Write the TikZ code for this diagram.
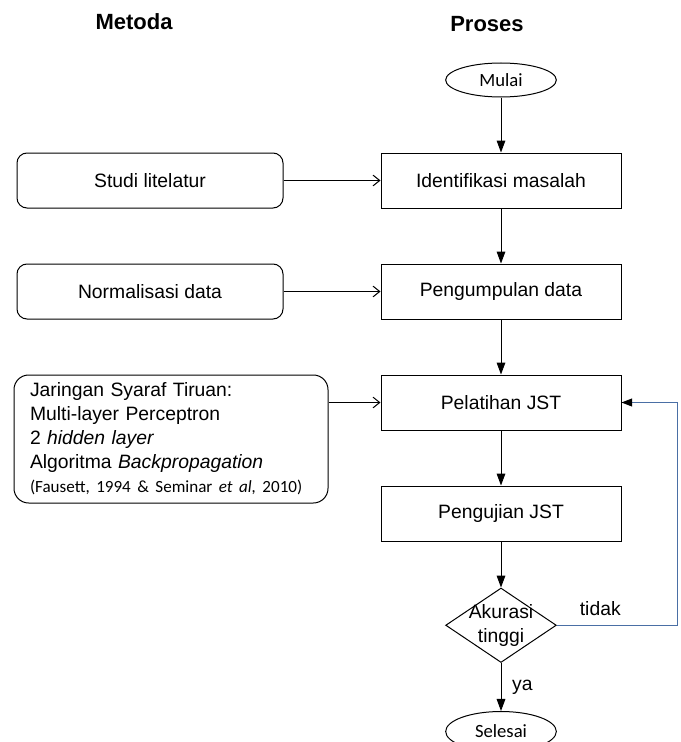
\documentclass[tikz,border=0pt]{standalone}
\usepackage{fontspec}
\setmainfont{Liberation Sans}
\newfontfamily\calibrifont{Carlito}
\usetikzlibrary{arrows.meta,positioning,shapes.geometric}
\definecolor{loopblue}{HTML}{4A6FA5}
\tikzset{
    basetext/.style={font=\fontsize{14.5}{18}\selectfont},
    procnode/.style={draw, line width=0.75pt, basetext, minimum width=180pt, minimum height=41.25pt, inner sep=0pt},
    methodnode/.style={procnode, rounded corners=7.5pt, minimum width=199.5pt},
    notenode/.style={draw, line width=0.75pt, basetext, rounded corners=11pt, align=left, text width=211.5pt, minimum height=96pt, inner xsep=12pt},
    termnode/.style={draw, ellipse, line width=0.75pt, font=\calibrifont\fontsize{14}{17}\selectfont, minimum width=83pt, minimum height=25.5pt, inner sep=0pt},
    decnode/.style={draw, diamond, line width=0.75pt, basetext, align=center, minimum width=83pt, minimum height=54.75pt, inner sep=-6pt},
    headnode/.style={font=\bfseries\fontsize{16.5}{20}\selectfont},
    flowarrow/.style={-{Triangle[length=9pt, width=6.5pt]}, line width=0.75pt},
    looparrow/.style={-{Triangle[length=8pt, width=6pt, black]}, line width=0.75pt, draw=loopblue},
    inarrow/.style={-{Straight Barb[length=5pt, width=8pt]}, line width=0.75pt},
    edgelabel/.style={basetext, inner sep=1pt}
}

\begin{document}
\begin{tikzpicture}[node distance=41.25pt and 72.75pt]
    \useasboundingbox (0,0) rectangle (510.75pt,-556.5pt);
    \node[headnode] (metoda) at (100.5pt,-16.5pt) {Metoda};
    \node[headnode] (proses) at (365.25pt,-18pt) {Proses};

    \node[termnode] (mulai) at (375.75pt,-60pt) {Mulai};
    \node[procnode, below=of mulai] (identifikasi) {Identifikasi masalah};
    \node[procnode, below=of identifikasi] (pengumpulan) {Pengumpulan data};
    \node[procnode, below=of pengumpulan] (pelatihan) {Pelatihan JST};
    \node[procnode, below=of pelatihan] (pengujian) {Pengujian JST};
    \node[decnode, below=34.5pt of pengujian] (akurasi) {Akurasi\\tinggi};
    \node[termnode, minimum height=30pt, below=36pt of akurasi] (selesai) {Selesai};

    \node[methodnode, left=of identifikasi] (studi) {Studi litelatur};
    \node[methodnode, left=of pengumpulan] (normalisasi) {Normalisasi data};
    \node[notenode, left=39pt of pelatihan.north west, anchor=north east] (jst) {Jaringan Syaraf Tiruan:\\
        Multi-layer Perceptron\\
        2 \textit{hidden layer}\\
        Algoritma \textit{Backpropagation}\\
        \mbox{\calibrifont\fontsize{12.8}{18}\selectfont (Fausett, 1994 \& Seminar \textit{et al,} 2010)}};

    \draw[flowarrow] (mulai) -- (identifikasi);
    \draw[flowarrow] (identifikasi) -- (pengumpulan);
    \draw[flowarrow] (pengumpulan) -- (pelatihan);
    \draw[flowarrow] (pelatihan) -- (pengujian);
    \draw[flowarrow] (pengujian) -- (akurasi);
    \draw[flowarrow] (akurasi) -- node[edgelabel, right=7pt] {ya} (selesai);
    \draw[inarrow] (studi) -- (identifikasi);
    \draw[inarrow] (normalisasi) -- (pengumpulan);
    \draw[inarrow] (jst.east |- pelatihan) -- (pelatihan);
    \draw[looparrow] (akurasi.east) -| node[edgelabel, pos=0.18, above=6pt] {tidak} ([xshift=42pt]pelatihan.east) -- (pelatihan.east);
\end{tikzpicture}
\end{document}
